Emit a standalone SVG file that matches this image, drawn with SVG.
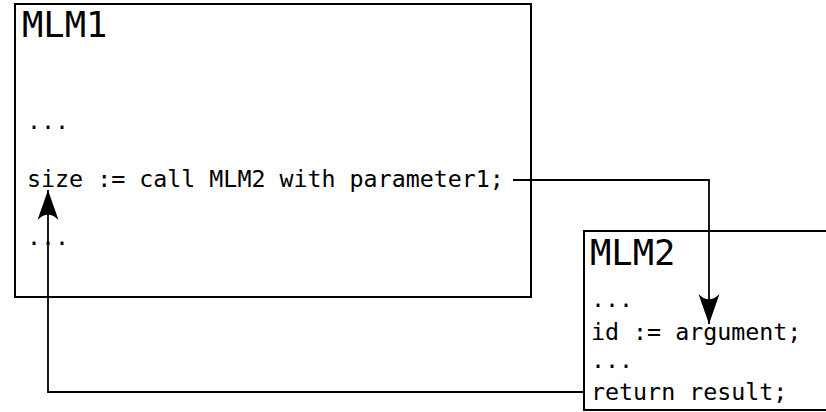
<svg xmlns="http://www.w3.org/2000/svg" width="826" height="412" viewBox="0 0 826 412">
  <style>
    .box { fill: #ffffff; stroke: #000000; stroke-width: 2; }
    .title { font-family: "DejaVu Sans Mono", "Liberation Mono", monospace; font-size: 35.5px; fill: #000000; }
    .code { font-family: "DejaVu Sans Mono", "Liberation Mono", monospace; font-size: 23.3px; fill: #000000; }
    .conn { fill: none; stroke: #000000; stroke-width: 1.8; }
  </style>
  <defs>
    <marker id="arrow" viewBox="-31 -12 33 24" markerWidth="33" markerHeight="24" refX="0" refY="0" orient="auto" markerUnits="userSpaceOnUse">
      <path d="M0,0 L-30,-10.5 C-23,-3.8 -23,3.8 -30,10.5 Z" fill="#000000"/>
    </marker>
  </defs>
  <rect width="826" height="412" fill="#ffffff"/>
  <g id="MLM1">
    <rect class="box" x="15" y="4" width="516" height="293"/>
    <text class="title" x="22" y="37">MLM1</text>
    <text class="code" x="27" y="129">...</text>
    <text class="code" x="27" y="187">size := call MLM2 with parameter1;</text>
    <text class="code" x="27" y="245">...</text>
  </g>
  <g id="MLM2">
    <rect class="box" x="584" y="231" width="260" height="179"/>
    <text class="title" x="590" y="265">MLM2</text>
    <text class="code" x="591" y="307">...</text>
    <text class="code" x="591" y="340">id := argument;</text>
    <text class="code" x="591" y="368">...</text>
    <text class="code" x="591" y="400">return result;</text>
  </g>
  <g id="connectors">
    <path class="conn" d="M513,180 H709 V324" marker-end="url(#arrow)"/>
    <path class="conn" d="M584,392 H48 V190" marker-end="url(#arrow)"/>
  </g>
</svg>
